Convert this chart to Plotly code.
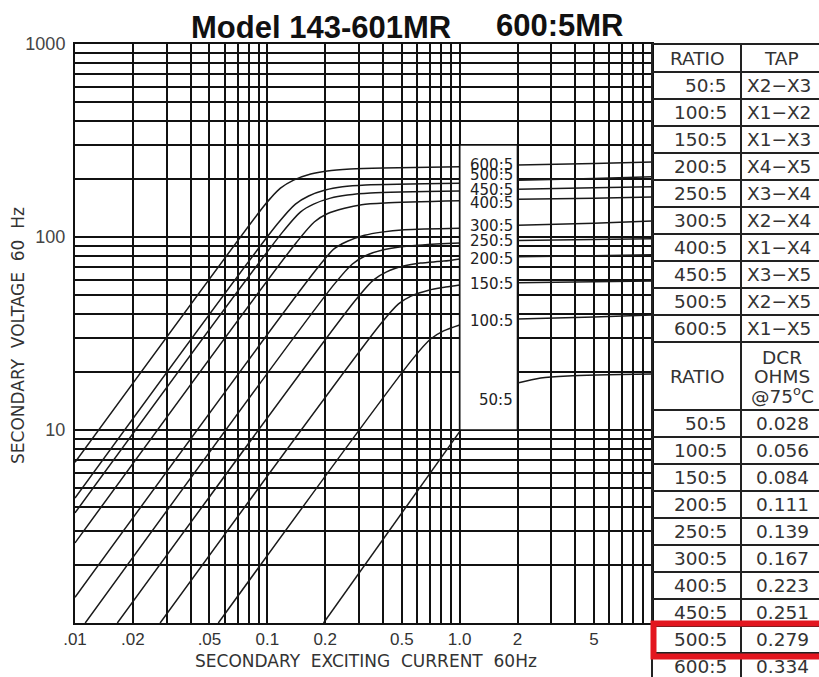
import math
import plotly.graph_objects as go

W, H = 819, 677

# ---------------- data ----------------
ratios = ["50:5", "100:5", "150:5", "200:5", "250:5", "300:5", "400:5", "450:5", "500:5", "600:5"]
taps = ["X2\u2212X3", "X1\u2212X2", "X1\u2212X3", "X4\u2212X5", "X3\u2212X4",
        "X2\u2212X4", "X1\u2212X4", "X3\u2212X5", "X2\u2212X5", "X1\u2212X5"]
dcr = ["0.028", "0.056", "0.084", "0.111", "0.139", "0.167", "0.223", "0.251", "0.279", "0.334"]

# excitation curves (current A, voltage V); None = hidden behind the label box
i_600 = [0.01, 0.094, 0.104, 0.117, 0.137, 0.168, 0.205, 0.27, 0.40, 1.0, None, 2.0, 5.0, 10.0]
v_600 = [6.8, 141, 159, 179, 197, 212, 220, 225, 228, 231, None, 236, 240, 245]
i_500 = [0.01, 0.113, 0.140, 0.164, 0.200, 0.246, 0.324, 1.0, None, 2.0, 5.0, 10.0]
v_500 = [4.44, 117, 148, 163, 175, 182, 186, 190, None, 197, 201, 205]
i_450 = [0.01, 0.120, 0.149, 0.174, 0.213, 0.261, 0.344, 1.0, None, 2.0, 5.0, 10.0]
v_450 = [3.72, 106, 135, 148, 159, 165, 169, 173, None, 177, 180, 182]
i_400 = [0.01, 0.142, 0.176, 0.205, 0.252, 0.309, 0.407, 1.0, None, 2.0, 5.0, 10.0]
v_400 = [2.60, 94, 120, 132, 141, 147, 150, 154, None, 157, 159, 161]
i_300 = [0.01, 0.180, 0.223, 0.261, 0.320, 0.393, 0.517, 1.0, None, 2.0, 5.0, 10.0]
v_300 = [1.36, 68, 87, 95, 102, 106, 109, 111, None, 115, 118, 121]
i_250 = [0.0113, 0.223, 0.277, 0.324, 0.397, 0.487, 0.642, 1.0, None, 2.0, 5.0, 10.0]
v_250 = [1.0, 57, 72.5, 80, 85.6, 88.8, 91, 93, None, 96, 97, 98]
i_200 = [0.0166, 0.287, 0.357, 0.417, 0.511, 0.626, 0.825, 1.0, None, 2.0, 5.0, 10.0]
v_200 = [1.0, 47, 60, 66, 70.7, 73.3, 75, 77, None, 79, 80, 81]
i_150 = [0.0277, 0.388, 0.481, 0.562, 0.690, 0.846, 1.0, None, 2.0, 5.0, 10.0]
v_150 = [1.0, 35.4, 45, 49.5, 53, 55, 56.4, None, 58, 58.7, 59.2]
i_100 = [0.0556, 0.569, 0.706, 0.825, 1.0, None, 2.0, 5.0, 10.0]
v_100 = [1.0, 23.3, 29.6, 32.6, 35, None, 37.6, 38.5, 39.4]
i_50 = [0.196, 1.0, None, 2.0, 2.64, 3.65, 10.0]
v_50 = [1.0, 9.8, None, 17.5, 18.6, 19.05, 19.5]

curves = [("600:5", i_600, v_600), ("500:5", i_500, v_500), ("450:5", i_450, v_450),
          ("400:5", i_400, v_400), ("300:5", i_300, v_300), ("250:5", i_250, v_250),
          ("200:5", i_200, v_200), ("150:5", i_150, v_150), ("100:5", i_100, v_100),
          ("50:5", i_50, v_50)]

# curve labels inside the white box
label_names = ["600:5", "500:5", "450:5", "400:5", "300:5", "250:5", "200:5", "150:5", "100:5", "50:5"]
label_v = [236, 210, 175, 150, 114, 95, 77, 57, 36.7, 14.3]

x_tick_vals = [0.01, 0.02, 0.05, 0.1, 0.2, 0.5, 1, 2, 5]
x_tick_text = [".01", ".02", ".05", "0.1", "0.2", "0.5", "1.0", "2", "5"]
y_tick_vals = [10, 100, 1000]
y_tick_text = ["10", "100", "1000"]

# ---------------- helpers (layout positions in pixels -> paper) ----------------
def PX(px):
    return px / W

def PY(py):
    return 1 - py / H

def key(v):
    return f"{v:.4g}"

x_grid = [m * 10 ** e for e in (-2, -1, 0) for m in range(1, 10)] + [10]
y_grid = [m * 10 ** e for e in (0, 1, 2) for m in range(1, 10)] + [1000]
xlab = {key(v): t for v, t in zip(x_tick_vals, x_tick_text)}
ylab = {key(v): t for v, t in zip(y_tick_vals, y_tick_text)}

fig = go.Figure()
for name, xs, ys in curves:
    fig.add_trace(go.Scatter(x=xs, y=ys, mode="lines", name=name, connectgaps=False,
                             line=dict(color="#1a1a1a", width=1.5, shape="spline", smoothing=0.8),
                             hoverinfo="skip", showlegend=False))

GRID = "#111111"
fig.update_layout(
    width=W, height=H, autosize=False,
    margin=dict(l=0, r=0, t=0, b=0, autoexpand=False),
    paper_bgcolor="white", plot_bgcolor="white",
    xaxis=dict(type="log", range=[-2, 1], domain=[PX(75), PX(652)], automargin=False,
               tickmode="array", tickvals=x_grid,
               ticktext=[xlab.get(key(v), "") for v in x_grid],
               showgrid=True, gridcolor=GRID, gridwidth=1.7,
               showline=True, linecolor=GRID, linewidth=2, mirror=True,
               ticks="", zeroline=False, ticklabelstandoff=0,
               tickfont=dict(family="Liberation Sans", size=17, color="#333")),
    yaxis=dict(type="log", range=[0, 3], domain=[PY(623), PY(44)], automargin=False,
               tickmode="array", tickvals=y_grid,
               ticktext=[ylab.get(key(v), "") for v in y_grid],
               showgrid=True, gridcolor=GRID, gridwidth=1.7,
               showline=True, linecolor=GRID, linewidth=2, mirror=True,
               ticks="", zeroline=False, ticklabelstandoff=4,
               tickfont=dict(family="Liberation Sans", size=18, color="#444")),
)

shapes = []
# white label box between 1.0 and 2 A, 10 to 300 V
shapes.append(dict(type="rect", xref="x", yref="y", x0=1, x1=2, y0=10, y1=300,
                   fillcolor="white", line=dict(color=GRID, width=1.7), layer="above"))

# table grid
TL = dict(color="#222", width=2)
for xv in (652, 741):
    shapes.append(dict(type="line", xref="paper", yref="paper", x0=PX(xv), x1=PX(xv),
                       y0=PY(44), y1=PY(690), line=TL))
row_h = 27
upper_lines = [44] + [72 + row_h * k for k in range(len(ratios) + 1)]
lower_lines = [410 + row_h * k for k in range(len(ratios) + 1)]
for yv in upper_lines + lower_lines:
    shapes.append(dict(type="line", xref="paper", yref="paper", x0=PX(652), x1=PX(840),
                       y0=PY(yv), y1=PY(yv), line=TL))
# red highlight around the 500:5 DCR row
shapes.append(dict(type="rect", xref="paper", yref="paper", x0=PX(653.5), x1=PX(840),
                   y0=PY(656.5), y1=PY(623.5), line=dict(color="#e3161f", width=6)))
fig.update_layout(shapes=shapes)

ann = []
TF = dict(family="DejaVu Sans", size=18.5, color="#333")


def note(px, py, text, font, xanchor="center", **kw):
    ann.append(dict(xref="paper", yref="paper", x=PX(px), y=PY(py), text=text,
                    xanchor=xanchor, yanchor="middle", showarrow=False, font=font, **kw))


# chart titles
TT = dict(family="Liberation Sans", size=31, color="#111")
note(321, 27, "<b>Model 143-601MR</b>", TT)
note(560, 25, "<b>600:5MR</b>", TT)
# axis titles
AT = dict(family="DejaVu Sans", size=17, color="#333")
note(366, 661, "SECONDARY  EXCITING  CURRENT  60Hz", AT)
note(18, 336, "SECONDARY  VOLTAGE  60  Hz", AT, textangle=-90)
# curve labels in the box
for name, v in zip(label_names, label_v):
    ann.append(dict(xref="x", yref="y", x=math.log10(2), y=math.log10(v), text=name,
                    xanchor="right", yanchor="middle", xshift=-3, showarrow=False,
                    font=dict(family="DejaVu Sans", size=15, color="#222")))
# table text
note(697, 58, "RATIO", TF)
note(781, 58, "TAP", TF)
for k, (r, t) in enumerate(zip(ratios, taps)):
    yc = 72 + row_h * k + row_h / 2
    note(729, yc, r, TF, xanchor="right")
    note(745, yc, t, TF, xanchor="left")
note(697, 376, "RATIO", TF)
for txt, yc in (("DCR", 357), ("OHMS", 376), ("@75<sup>o</sup>C", 395)):
    note(782, yc, txt, TF)
for k, (r, d) in enumerate(zip(ratios, dcr)):
    yc = 410 + row_h * k + row_h / 2
    note(729, yc, r, TF, xanchor="right")
    note(782, yc, d, TF)
fig.update_layout(annotations=ann)

fig.write_html("out.html")
